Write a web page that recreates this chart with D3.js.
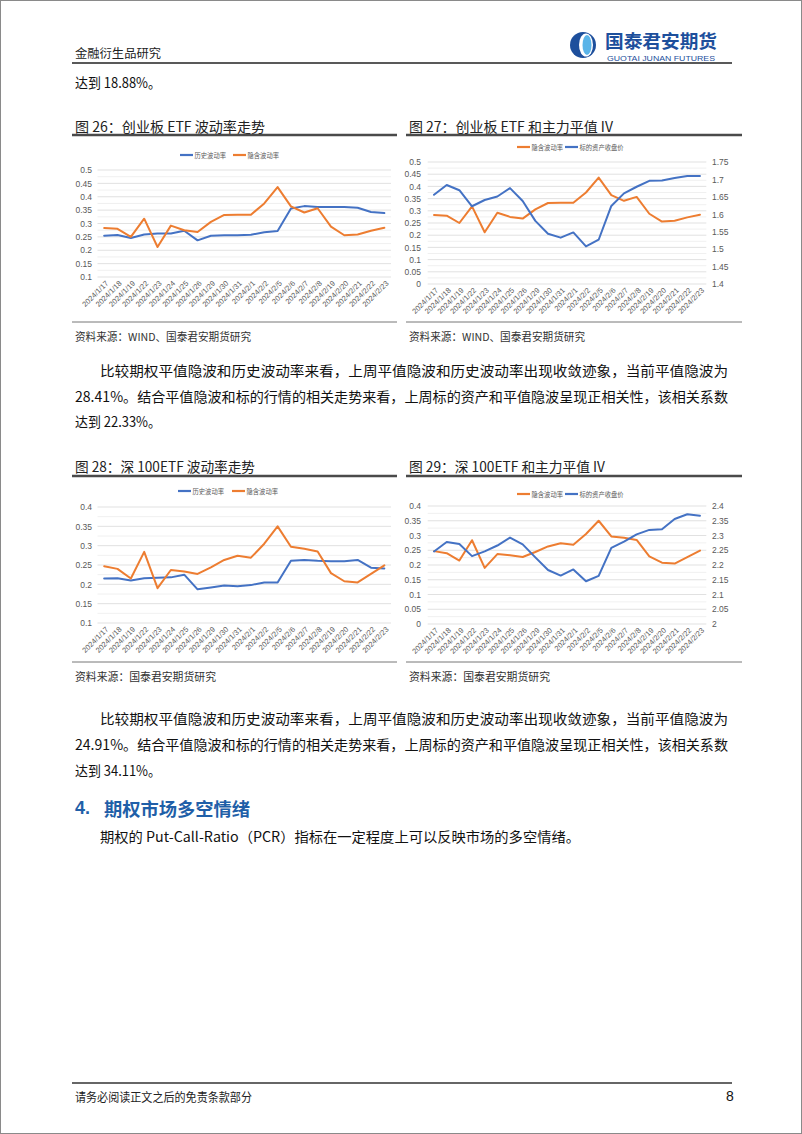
<!DOCTYPE html>
<html><head><meta charset="utf-8">
<script src="https://cdn.jsdelivr.net/npm/d3@7"></script>
<style>body{margin:0;background:#fff}svg{display:block}</style>
</head><body>
<svg id="page" width="802" height="1134"></svg>
<script>
const dates = ["2024/1/17","2024/1/18","2024/1/19","2024/1/22","2024/1/23","2024/1/24","2024/1/25","2024/1/26","2024/1/29","2024/1/30","2024/1/31","2024/2/1","2024/2/2","2024/2/5","2024/2/6","2024/2/7","2024/2/8","2024/2/19","2024/2/20","2024/2/21","2024/2/22","2024/2/23"];
const cybHist = [0.254,0.257,0.246,0.259,0.263,0.263,0.273,0.237,0.254,0.256,0.256,0.258,0.267,0.272,0.356,0.365,0.362,0.362,0.362,0.359,0.343,0.339];
const cybImplied = [0.283,0.280,0.250,0.318,0.212,0.292,0.275,0.268,0.306,0.332,0.333,0.333,0.375,0.436,0.364,0.341,0.357,0.288,0.256,0.259,0.273,0.284];
const cybClose = [1.656,1.684,1.669,1.623,1.641,1.651,1.675,1.638,1.581,1.544,1.533,1.548,1.508,1.527,1.624,1.660,1.679,1.696,1.697,1.704,1.710,1.710];
const sz100Hist = [0.215,0.216,0.210,0.216,0.217,0.218,0.225,0.187,0.192,0.197,0.195,0.198,0.205,0.205,0.261,0.263,0.261,0.260,0.260,0.263,0.243,0.241];
const sz100Implied = [0.247,0.240,0.215,0.284,0.190,0.237,0.233,0.227,0.244,0.263,0.274,0.269,0.305,0.350,0.297,0.292,0.285,0.229,0.208,0.205,0.227,0.249];
const sz100Close = [2.246,2.278,2.271,2.230,2.246,2.266,2.293,2.270,2.226,2.183,2.164,2.185,2.145,2.163,2.258,2.279,2.304,2.319,2.321,2.356,2.372,2.367];
const volTicks26 = [0.1,0.15,0.2,0.25,0.3,0.35,0.4,0.45,0.5];
const volTicks27 = [0,0.05,0.1,0.15,0.2,0.25,0.3,0.35,0.4,0.45,0.5];
const priceTicks27 = [1.4,1.45,1.5,1.55,1.6,1.65,1.7,1.75];
const volTicks28 = [0.1,0.15,0.2,0.25,0.3,0.35,0.4];
const volTicks29 = [0,0.05,0.1,0.15,0.2,0.25,0.3,0.35,0.4];
const priceTicks29 = [2,2.05,2.1,2.15,2.2,2.25,2.3,2.35,2.4];
const nameHist = "历史波动率", nameImplied = "隐含波动率", nameClose = "标的资产收盘价";

const BLUE = "#4472C4", ORANGE = "#ED7D31";
const CJK = "'Noto Sans CJK SC','Noto Sans',sans-serif";
const LAT = "'Liberation Sans',Arial,sans-serif";
const svg = d3.select("#page");

svg.append("rect").attr("x",0.5).attr("y",0.5).attr("width",801).attr("height",1133)
  .attr("fill","#fff").attr("stroke","#8a8a8a");

function txt(x,y,s,opts={}){
  const t = svg.append("text").attr("x",x).attr("y",y).attr("dominant-baseline","central")
    .attr("font-family",opts.family||CJK).attr("font-size",opts.size||14)
    .attr("fill",opts.fill||"#111").text(s);
  if(opts.weight) t.attr("font-weight",opts.weight);
  if(opts.len){ t.attr("textLength",opts.len).attr("lengthAdjust","spacingAndGlyphs"); }
  if(opts.anchor) t.attr("text-anchor",opts.anchor);
  return t;
}
function hline(x1,x2,y,w,c){
  svg.append("line").attr("x1",x1).attr("x2",x2).attr("y1",y).attr("y2",y)
    .attr("stroke",c).attr("stroke-width",w);
}

// header
txt(75,52,"金融衍生品研究",{size:12,fill:"#222",len:86});
const logo = svg.append("g").attr("transform","translate(583,45)");
logo.append("circle").attr("r",13).attr("fill","#1d4f9c");
logo.append("ellipse").attr("cx",3).attr("rx",7).attr("ry",11.5).attr("fill","#fff");
logo.append("ellipse").attr("cx",4).attr("rx",4.5).attr("ry",10).attr("fill","#5ab4e8");
txt(605,40,"国泰君安期货",{size:18,weight:"bold",fill:"#1d4f9c",len:112});
txt(607,58,"GUOTAI JUNAN FUTURES",{size:6.5,fill:"#1d4f9c",len:108,family:LAT});
hline(72,732,63,1.5,"#222");
txt(75,82,"达到 18.88%。",{size:14,len:86});

// chart frame helper
function frame(x1,x2,titleY,lineY,botY,title,titleLen,source,sourceLen){
  txt(x1+3,titleY,title,{size:14,fill:"#222",len:titleLen});
  hline(x1,x2,lineY,2.5,"#4a4a4a");
  hline(x1,x2,botY,1,"#777");
  txt(x1+3,botY+14,source,{size:11,fill:"#333",len:sourceLen});
}
frame(72,397,126,135,322,"图 26：创业板 ETF 波动率走势",190,"资料来源：WIND、国泰君安期货研究",176);
frame(406,742,126,135,322,"图 27：创业板 ETF 和主力平值 IV",204,"资料来源：WIND、国泰君安期货研究",176);
frame(72,397,466,476,662,"图 28：深 100ETF 波动率走势",180,"资料来源：国泰君安期货研究",141);
frame(406,742,466,476,662,"图 29：深 100ETF 和主力平值 IV",196,"资料来源：国泰君安期货研究",141);

const fmt = v => String(+v.toFixed(2));

function chart(cfg){
  const g = svg.append("g");
  const x = d3.scalePoint().domain(dates).range([cfg.x0,cfg.x1]).padding(0.5);
  const yL = d3.scaleLinear().domain(d3.extent(cfg.lticks)).range([cfg.yb,cfg.yt]);
  const yR = cfg.rticks ? d3.scaleLinear().domain(d3.extent(cfg.rticks)).range([cfg.yb,cfg.yt]) : null;
  const step = cfg.lticks[1]-cfg.lticks[0];
  const minor = [];
  for(let i=0;i<cfg.lticks.length-1;i++) minor.push(cfg.lticks[i]+step/2);
  g.selectAll(".mg").data(minor).join("line")
    .attr("x1",cfg.x0).attr("x2",cfg.x1).attr("y1",d=>yL(d)).attr("y2",d=>yL(d))
    .attr("stroke","#ececec").attr("stroke-width",0.8);
  g.selectAll(".gl").data(cfg.lticks).join("line")
    .attr("x1",cfg.x0).attr("x2",cfg.x1).attr("y1",d=>yL(d)).attr("y2",d=>yL(d))
    .attr("stroke","#d9d9d9").attr("stroke-width",0.8);
  const axL = d3.axisLeft(yL).tickValues(cfg.lticks).tickFormat(fmt).tickSize(0).tickPadding(0);
  const gl = g.append("g").attr("transform",`translate(${cfg.lx},0)`).call(axL);
  gl.select(".domain").remove();
  gl.selectAll("text").attr("font-family",LAT).attr("font-size",8.5).attr("fill","#595959");
  if(yR){
    const axR = d3.axisRight(yR).tickValues(cfg.rticks).tickFormat(fmt).tickSize(0).tickPadding(0);
    const gr = g.append("g").attr("transform",`translate(${cfg.rx},0)`).call(axR);
    gr.select(".domain").remove();
    gr.selectAll("text").attr("font-family",LAT).attr("font-size",8.5).attr("fill","#595959");
  }
  g.selectAll(".xl").data(dates).join("text")
    .attr("transform",d=>`translate(${x(d)+3},${cfg.yb+5}) rotate(-45)`)
    .attr("text-anchor","end").attr("dominant-baseline","central")
    .attr("font-family",LAT).attr("font-size",7.5).attr("fill","#595959")
    .text(d=>d);
  cfg.series.forEach(s=>{
    const ys = s.axis==="r" ? yR : yL;
    const line = d3.line().x((d,i)=>x(dates[i])).y(d=>ys(d));
    g.append("path").datum(s.values).attr("d",line).attr("fill","none")
      .attr("stroke",s.color).attr("stroke-width",2).attr("stroke-linejoin","round").attr("stroke-linecap","round");
  });
  cfg.legend.forEach(l=>{
    g.append("line").attr("x1",l.x).attr("x2",l.x+13).attr("y1",cfg.legY).attr("y2",cfg.legY)
      .attr("stroke",l.color).attr("stroke-width",2.2);
    g.append("text").attr("x",l.x+14.5).attr("y",cfg.legY).attr("dominant-baseline","central")
      .attr("font-family",CJK).attr("font-size",7).attr("fill","#595959")
      .attr("textLength",l.name.length*6.3).attr("lengthAdjust","spacingAndGlyphs").text(l.name);
  });
}

chart({x0:97.5,x1:391,yt:170,yb:277,lticks:volTicks26,lx:92,legY:155,
  series:[{values:cybHist,color:BLUE},{values:cybImplied,color:ORANGE}],
  legend:[{name:nameHist,color:BLUE,x:180},{name:nameImplied,color:ORANGE,x:233}]});
chart({x0:427.7,x1:706.3,yt:162,yb:284,lticks:volTicks27,rticks:priceTicks27,lx:421,rx:712,legY:147,
  series:[{values:cybImplied,color:ORANGE},{values:cybClose,color:BLUE,axis:"r"}],
  legend:[{name:nameImplied,color:ORANGE,x:517},{name:nameClose,color:BLUE,x:565}]});
chart({x0:97.5,x1:391,yt:507,yb:623,lticks:volTicks28,lx:92,legY:491,
  series:[{values:sz100Hist,color:BLUE},{values:sz100Implied,color:ORANGE}],
  legend:[{name:nameHist,color:BLUE,x:178},{name:nameImplied,color:ORANGE,x:232}]});
chart({x0:427.7,x1:706.3,yt:506,yb:624,lticks:volTicks29,rticks:priceTicks29,lx:421,rx:712,legY:494,
  series:[{values:sz100Implied,color:ORANGE},{values:sz100Close,color:BLUE,axis:"r"}],
  legend:[{name:nameImplied,color:ORANGE,x:517},{name:nameClose,color:BLUE,x:565}]});

// body paragraphs
txt(100,370,"比较期权平值隐波和历史波动率来看，上周平值隐波和历史波动率出现收敛迹象，当前平值隐波为",{len:628});
txt(75,396,"28.41%。结合平值隐波和标的行情的相关走势来看，上周标的资产和平值隐波呈现正相关性，该相关系数",{len:653});
txt(75,421,"达到 22.33%。",{len:86});
txt(100,718,"比较期权平值隐波和历史波动率来看，上周平值隐波和历史波动率出现收敛迹象，当前平值隐波为",{len:628});
txt(75,744,"24.91%。结合平值隐波和标的行情的相关走势来看，上周标的资产和平值隐波呈现正相关性，该相关系数",{len:653});
txt(75,770,"达到 34.11%。",{len:86});
txt(75,808,"4.",{size:18,weight:"bold",fill:"#1f5fa8",family:LAT});
txt(104,808,"期权市场多空情绪",{size:18,weight:"bold",fill:"#1f5fa8",len:146});
txt(100,836,"期权的 Put-Call-Ratio（PCR）指标在一定程度上可以反映市场的多空情绪。",{len:480});

// footer
hline(72,732,1083,1.5,"#333");
txt(75,1096,"请务必阅读正文之后的免责条款部分",{size:12,fill:"#222",len:177});
txt(726,1096,"8",{size:14,fill:"#111",family:LAT});
</script>
</body></html>
